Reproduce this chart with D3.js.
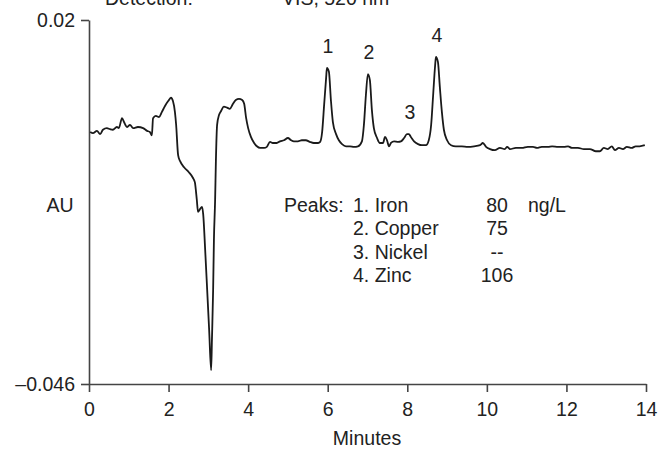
<!DOCTYPE html>
<html>
  <head>
    <meta charset="utf-8" />
    <script src="https://cdn.jsdelivr.net/npm/d3@7"></script>
    <style>
      body {
        margin: 0;
        background: #fff;
        font-family: "Liberation Sans", Arial, Helvetica, sans-serif;
      }
    </style>
  </head>
  <body>
    <script>
      // retention time (min) and absorbance (AU)
      var times = [
        0.03, 0.1, 0.2, 0.28, 0.35, 0.45, 0.53, 0.6, 0.7, 0.75, 0.83, 0.88,
        0.96, 1.03, 1.11, 1.23, 1.36, 1.46, 1.53, 1.58, 1.61, 1.68, 1.76, 1.83,
        1.91, 1.99, 2.06, 2.11, 2.16, 2.19, 2.24, 2.29, 2.39, 2.51, 2.61, 2.66,
        2.71, 2.74, 2.79, 2.84, 2.87, 2.92, 2.97, 3.02, 3.07, 3.09, 3.12, 3.14,
        3.17, 3.19, 3.22, 3.27, 3.32, 3.39, 3.47, 3.54, 3.62, 3.69, 3.77, 3.85,
        3.9, 3.95, 4.0, 4.07, 4.15, 4.22, 4.3, 4.4, 4.47, 4.55, 4.62, 4.72, 4.8,
        4.9, 5.0, 5.08, 5.15, 5.25, 5.35, 5.45, 5.55, 5.65, 5.76, 5.81, 5.86,
        5.91, 5.96, 5.98, 6.03, 6.08, 6.13, 6.21, 6.28, 6.36, 6.46, 6.56, 6.66,
        6.76, 6.86, 6.91, 6.96, 7.01, 7.06, 7.11, 7.16, 7.24, 7.31, 7.39, 7.44,
        7.49, 7.54, 7.59, 7.67, 7.77, 7.84, 7.92, 7.99, 8.04, 8.09, 8.17, 8.27,
        8.37, 8.47, 8.54, 8.6, 8.65, 8.7, 8.72, 8.77, 8.82, 8.87, 8.92, 9.0, 9.1,
        9.22, 9.37, 9.52, 9.68, 9.83, 9.9, 9.98, 10.08, 10.2, 10.33, 10.45,
        10.51, 10.58, 10.73, 10.88, 11.03, 11.16, 11.26, 11.38, 11.54, 11.64,
        11.79, 11.94, 12.04, 12.14, 12.29, 12.44, 12.59, 12.74, 12.84, 12.94,
        13.04, 13.14, 13.22, 13.32, 13.42, 13.52, 13.64, 13.74, 13.84, 13.97,
      ];
      var absorbance = [
        -0.0003, -0.0005, -0.0001, -0.0007, 0.0001, 0.0004, 0.0002, 0.0001,
        0.0006, 0.0004, 0.0022, 0.0015, 0.0006, 0.001, 0.0004, 0.0006, 0.0004,
        -0.0001, -0.0003, -0.0009, 0.0022, 0.0026, 0.0024, 0.0033, 0.0044,
        0.0053, 0.0059, 0.0053, 0.0033, 0.001, -0.0045, -0.0056, -0.0067,
        -0.0076, -0.0086, -0.0094, -0.0126, -0.0148, -0.0143, -0.0139, -0.0152,
        -0.0217, -0.0289, -0.0362, -0.0435, -0.038, -0.0289, -0.0199, -0.0126,
        -0.0054, 0.001, 0.0028, 0.0035, 0.0043, 0.0041, 0.0039, 0.0048, 0.0055,
        0.0057, 0.0055, 0.0048, 0.0022, 0.0004, -0.0012, -0.0023, -0.0029,
        -0.0032, -0.0032, -0.003, -0.0021, -0.0023, -0.0023, -0.002, -0.0018,
        -0.0014, -0.0018, -0.002, -0.002, -0.0018, -0.0018, -0.0021, -0.0023,
        -0.0023, -0.0021, -0.0003, 0.0046, 0.0095, 0.0113, 0.0106, 0.0055,
        0.0015, -0.0007, -0.0018, -0.0025, -0.0029, -0.0029, -0.003, -0.0029,
        -0.002, 0.001, 0.0064, 0.0102, 0.0091, 0.0037, 0.0004, -0.0014, -0.0023,
        -0.0023, -0.0012, -0.0018, -0.0029, -0.0023, -0.002, -0.0021, -0.002,
        -0.0014, -0.0007, -0.0007, -0.0012, -0.002, -0.0025, -0.0027, -0.0027,
        -0.0018, 0.001, 0.0064, 0.0118, 0.0133, 0.0124, 0.0077, 0.0033, 0.0001,
        -0.0018, -0.0027, -0.0029, -0.0029, -0.003, -0.0029, -0.0027, -0.0023,
        -0.003, -0.0034, -0.0036, -0.0032, -0.0034, -0.003, -0.0034, -0.0032,
        -0.0032, -0.003, -0.003, -0.0032, -0.003, -0.003, -0.0029, -0.003,
        -0.003, -0.0029, -0.0032, -0.0032, -0.0034, -0.0034, -0.0038, -0.0038,
        -0.0032, -0.0034, -0.0029, -0.0036, -0.0032, -0.0034, -0.003, -0.0032,
        -0.0029, -0.0029, -0.0027,
      ];

      // peak numbers over the trace
      var peakIds = ["1", "2", "3", "4"];
      var peakTimes = [5.98, 7.01, 8.04, 8.72];
      var peakHeights = [0.0113, 0.0102, -0.0007, 0.0133];

      // peak table
      var peakNames = ["1. Iron", "2. Copper", "3. Nickel", "4. Zinc"];
      var peakAmounts = ["80", "75", "--", "106"];
      var amountUnit = "ng/L";

      var xTicks = [0, 2, 4, 6, 8, 10, 12, 14];
      var yTicks = [0.02, -0.046];

      var width = 659,
        height = 449;
      var fontSize = 19.5;

      var svg = d3
        .select("body")
        .append("svg")
        .attr("width", width)
        .attr("height", height)
        .style("font-family", '"Liberation Sans", Arial, sans-serif');

      var x = d3.scaleLinear().domain([0, 14]).range([89, 646]);
      var y = d3.scaleLinear().domain([-0.046, 0.02]).range([384, 20]);

      // header line, cut by the top edge as in the original figure
      svg
        .append("text")
        .attr("x", 105)
        .attr("y", 5)
        .attr("font-size", fontSize)
        .attr("fill", "#222")
        .text("Detection:");
      svg
        .append("text")
        .attr("x", 282)
        .attr("y", 5)
        .attr("font-size", fontSize)
        .attr("fill", "#222")
        .text("VIS, 520 nm");

      var xAxis = svg
        .append("g")
        .attr("transform", "translate(0,384)")
        .call(
          d3
            .axisBottom(x)
            .tickValues(xTicks)
            .tickSize(8)
            .tickSizeOuter(0)
            .tickPadding(4)
        );

      var yAxis = svg
        .append("g")
        .attr("transform", "translate(89,0)")
        .call(
          d3
            .axisLeft(y)
            .tickValues(yTicks)
            .tickSize(8)
            .tickSizeOuter(0)
            .tickPadding(6)
            .tickFormat(function (d) {
              return d < 0 ? "\u2013" + Math.abs(d) : String(d);
            })
        );

      [xAxis, yAxis].forEach(function (g) {
        g.select(".domain").attr("stroke", "#444").attr("stroke-width", 1.6);
        g.selectAll(".tick line")
          .attr("stroke", "#444")
          .attr("stroke-width", 1.6);
        g.selectAll(".tick text")
          .attr("font-size", fontSize)
          .attr("font-family", '"Liberation Sans", Arial, sans-serif')
          .attr("fill", "#222");
      });
      xAxis.selectAll(".tick text").attr("dy", "1.0em");

      svg
        .append("text")
        .attr("x", 367)
        .attr("y", 445)
        .attr("text-anchor", "middle")
        .attr("font-size", fontSize)
        .attr("fill", "#222")
        .text("Minutes");

      svg
        .append("text")
        .attr("x", 60)
        .attr("y", 212)
        .attr("text-anchor", "middle")
        .attr("font-size", fontSize)
        .attr("fill", "#222")
        .text("AU");

      var trace = times.map(function (t, i) {
        return [t, absorbance[i]];
      });

      var line = d3
        .line()
        .x(function (d) {
          return x(d[0]);
        })
        .y(function (d) {
          return y(d[1]);
        })
        .curve(d3.curveMonotoneX);

      svg
        .append("path")
        .datum(trace)
        .attr("d", line)
        .attr("fill", "none")
        .attr("stroke", "#1a1a1a")
        .attr("stroke-width", 1.8)
        .attr("stroke-linejoin", "round");

      svg
        .selectAll(".peak-id")
        .data(peakIds)
        .enter()
        .append("text")
        .attr("class", "peak-id")
        .attr("x", function (d, i) {
          return x(peakTimes[i]) + 1;
        })
        .attr("y", function (d, i) {
          return y(peakHeights[i]) - 15;
        })
        .attr("text-anchor", "middle")
        .attr("font-size", fontSize)
        .attr("fill", "#222")
        .text(function (d) {
          return d;
        });

      // peak table
      var rowY = d3.scaleLinear().domain([0, 3]).range([212, 282]);
      svg
        .append("text")
        .attr("x", 284)
        .attr("y", rowY(0))
        .attr("font-size", fontSize)
        .attr("fill", "#222")
        .text("Peaks:");
      svg
        .selectAll(".pname")
        .data(peakNames)
        .enter()
        .append("text")
        .attr("class", "pname")
        .attr("x", 353)
        .attr("y", function (d, i) {
          return rowY(i);
        })
        .attr("font-size", fontSize)
        .attr("fill", "#222")
        .text(function (d) {
          return d;
        });
      svg
        .selectAll(".pamt")
        .data(peakAmounts)
        .enter()
        .append("text")
        .attr("class", "pamt")
        .attr("x", 497)
        .attr("y", function (d, i) {
          return rowY(i);
        })
        .attr("text-anchor", "middle")
        .attr("font-size", fontSize)
        .attr("fill", "#222")
        .text(function (d) {
          return d;
        });
      svg
        .append("text")
        .attr("x", 528)
        .attr("y", rowY(0))
        .attr("font-size", fontSize)
        .attr("fill", "#222")
        .text(amountUnit);
    </script>
  </body>
</html>
